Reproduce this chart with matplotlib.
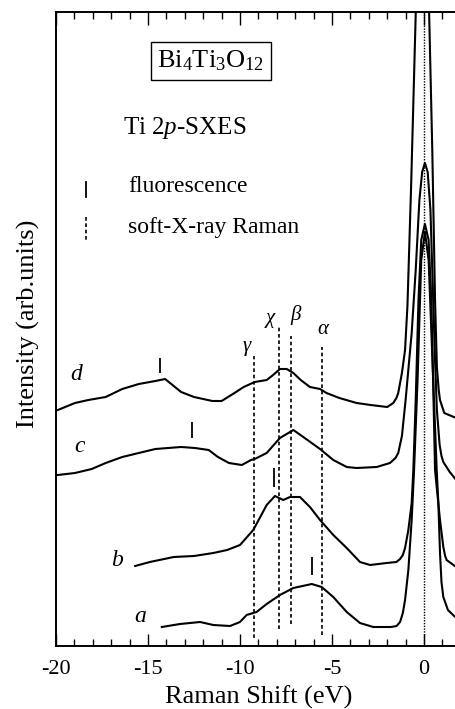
import matplotlib
matplotlib.use("Agg")
import matplotlib.pyplot as plt
from matplotlib.ticker import MultipleLocator

plt.rcParams["font.family"] = ["Liberation Serif", "DejaVu Serif"]
plt.rcParams["mathtext.fontset"] = "custom"
plt.rcParams["mathtext.rm"] = "Liberation Serif"
plt.rcParams["mathtext.it"] = "Liberation Serif:italic"
plt.rcParams["axes.unicode_minus"] = False

# spectra: Raman shift (eV) and intensity (arb. units, offset)
a_x = [-14.25, -13.26, -12.17, -11.45, -10.54, -10.0, -9.64, -9.1, -8.55, -7.83, -7.1, -6.1,
       -5.56, -4.93, -4.2, -3.48, -2.76, -1.8, -1.49, -1.3, -1.15, -1.03, -0.85, -0.67, -0.54,
       -0.35, -0.15, 0.05, 0.25, 0.5, 0.69, 0.78, 0.87, 0.95, 1.05, 1.3, 1.75]
a_y = [1.9, 2.2, 2.4, 2.1, 2.0, 2.4, 3.1, 3.4, 4.2, 5.1, 5.8, 6.2,
       5.9, 4.9, 3.4, 2.3, 1.9, 1.9, 2.0, 2.4, 3.3, 4.6, 7.6, 12.6, 17.6,
       26.6, 38.6, 41.4, 38.6, 26.6, 17.6, 14.3, 9.3, 6.4, 4.9, 3.6, 2.8]

b_x = [-15.7, -14.9, -13.6, -12.5, -11.45, -10.7, -10.0, -9.28, -8.55, -8.1, -7.65, -7.28,
       -6.74, -6.2, -5.65, -4.93, -4.2, -3.48, -2.93, -2.03, -1.5, -1.3, -1.15, -1.03, -0.85,
       -0.67, -0.58, -0.45, -0.3, -0.15, 0.05, 0.25, 0.4, 0.6, 0.69, 0.87, 1.05, 1.15, 1.23, 1.75]
b_y = [8.0, 8.4, 8.9, 9.0, 9.3, 9.6, 10.1, 11.6, 14.1, 15.0, 14.6, 14.9,
       14.9, 13.9, 12.6, 11.1, 9.8, 8.4, 8.1, 8.3, 8.4, 8.7, 9.1, 9.8, 11.6,
       14.3, 17.6, 24.6, 34.6, 40.6, 42.2, 40.6, 34.6, 17.6, 15.9, 12.6, 9.9, 9.0, 8.6, 7.9]

c_x = [-19.9, -18.97, -18.06, -17.3, -16.4, -15.5, -14.6, -13.9, -13.2, -12.45, -11.7, -11.2,
       -10.6, -9.9, -9.4, -9.2, -8.55, -7.83, -7.1, -6.56, -5.65, -4.93, -4.2, -3.66,
       -2.57, -1.85, -1.55, -1.4, -1.2, -1.0, -0.67, -0.45, -0.25, -0.1, 0.05, 0.2, 0.35,
       0.5, 0.6, 0.7, 0.85, 0.95, 1.05, 1.4, 1.75]
c_y = [17.1, 17.3, 17.7, 18.3, 18.9, 19.3, 19.7, 19.8, 19.9, 19.8, 19.6, 18.9,
       18.3, 18.1, 18.6, 18.7, 19.3, 20.8, 21.6, 20.9, 19.7, 18.6, 17.9, 17.8,
       17.9, 18.3, 18.8, 19.3, 21.0, 24.6, 31.3, 37.6, 44.6, 47.4, 48.3, 47.4, 43.6,
       34.6, 28.6, 23.6, 20.1, 19.0, 18.4, 17.4, 16.6]

d_x = [-19.9, -18.97, -18.24, -17.3, -16.4, -15.5, -14.6, -14.07, -13.2, -12.5, -11.5, -11.0,
       -10.3, -9.8, -9.2, -8.55, -8.2, -7.83, -7.46, -7.1, -6.7, -6.2, -5.65, -5.3,
       -4.6, -3.66, -2.9, -2.0, -1.67, -1.5, -1.4, -1.2, -1.03, -0.9, -0.7, -0.45, -0.1,
       0.28, 0.45, 0.6, 0.65, 0.7, 0.8, 0.87, 1.1, 1.75]
d_y = [23.6, 24.3, 24.6, 24.9, 25.7, 26.2, 26.5, 26.7, 25.4, 24.9, 24.5, 24.5,
       25.3, 25.9, 26.4, 26.6, 27.1, 27.7, 27.7, 27.3, 26.6, 25.9, 25.7, 25.3,
       24.8, 24.3, 24.1, 23.9, 24.3, 24.8, 25.3, 27.3, 29.6, 34.0, 46.0, 63.2, 90.0,
       63.2, 49.6, 34.6, 31.3, 27.9, 25.6, 24.6, 23.3, 22.8]

# fluorescence markers: position (eV), bottom, top
fluo_x = [-6.1, -8.15, -12.6, -14.35]
fluo_lo = [7.1, 15.9, 20.8, 27.3]
fluo_hi = [8.9, 17.8, 22.4, 28.8]

# soft-X-ray Raman lines
raman_names = ["\u03b1", "\u03b2", "\u03c7", "\u03b3"]
raman_x = [-5.56, -7.24, -7.86, -9.22]
raman_lo = [1.1, 2.2, 1.7, 0.8]
raman_hi = [29.9, 31.0, 31.9, 29.0]
raman_lx = [-5.47, -7.0, -8.37, -9.64]
raman_ly = [31.6, 33.1, 32.8, 29.9]

curve_names = ["a", "b", "c", "d"]
curve_lx = [-15.4, -16.7, -18.7, -18.9]
curve_ly = [2.9, 8.6, 19.9, 27.1]

W, H = 456, 709
fig = plt.figure(figsize=(W / 100, H / 100), dpi=100)
ax = fig.add_axes([56 / W, (H - 646) / H, 404.8 / W, 634 / H])

lw = 1.5
for xs, ys in [(a_x, a_y), (b_x, b_y), (c_x, c_y), (d_x, d_y)]:
    ax.plot(xs, ys, color="black", lw=lw)

ax.vlines(fluo_x, fluo_lo, fluo_hi, color="black", lw=1.3)
ax.vlines(raman_x, raman_lo, raman_hi, color="black", lw=1.2, linestyles=(0, (2.2, 1.6)))
ax.axvline(0, color="black", lw=1.0, ls=(0, (1, 1)))

for name, x, y in zip(raman_names, raman_lx, raman_ly):
    ax.text(x, y, name, fontsize=15, style="italic", ha="center", va="center")
for name, x, y in zip(curve_names, curve_lx, curve_ly):
    ax.text(x, y, name, fontsize=17, style="italic", ha="center", va="center")

ax.set_xlim(-20, 2)
ax.set_ylim(0, 63.4)
ax.xaxis.set_major_locator(MultipleLocator(5))
ax.xaxis.set_minor_locator(MultipleLocator(1))
ax.tick_params(axis="x", which="both", direction="in", top=True, width=1.0, labelsize=16, pad=10)
ax.tick_params(axis="x", which="major", length=9)
ax.tick_params(axis="x", which="minor", length=5)
ax.set_yticks([])
for s in ax.spines.values():
    s.set_linewidth(1.4)
ax.set_xlabel("Raman Shift (eV)", fontsize=19, labelpad=5)

fig.text(28 / W, 1 - 324 / H, "Intensity (arb.units)", rotation=90, fontsize=19,
         ha="center", va="center")

# annotation block
fig.text(211 / W, 1 - 61 / H, r"Bi$_4$Ti$_3$O$_{12}$", fontsize=19, ha="center", va="center",
         bbox=dict(boxstyle="square,pad=0.25", fc="white", ec="black", lw=1.0))
fig.text(123 / W, 1 - 128 / H, r"Ti 2$\it{p}$-SXES", fontsize=18, ha="left", va="center")
fig.lines.append(plt.Line2D([86 / W, 86 / W], [1 - 182 / H, 1 - 197 / H], color="black",
                            lw=1.3, transform=fig.transFigure))
fig.lines.append(plt.Line2D([86 / W, 86 / W], [1 - 217 / H, 1 - 240 / H], color="black",
                            lw=1.2, ls=(0, (2.2, 1.6)), transform=fig.transFigure))
fig.text(128 / W, 1 - 186 / H, "fluorescence", fontsize=17, ha="left", va="center")
fig.text(128 / W, 1 - 228 / H, "soft-X-ray Raman", fontsize=17, ha="left", va="center")

fig.savefig("out.png", dpi=100)
